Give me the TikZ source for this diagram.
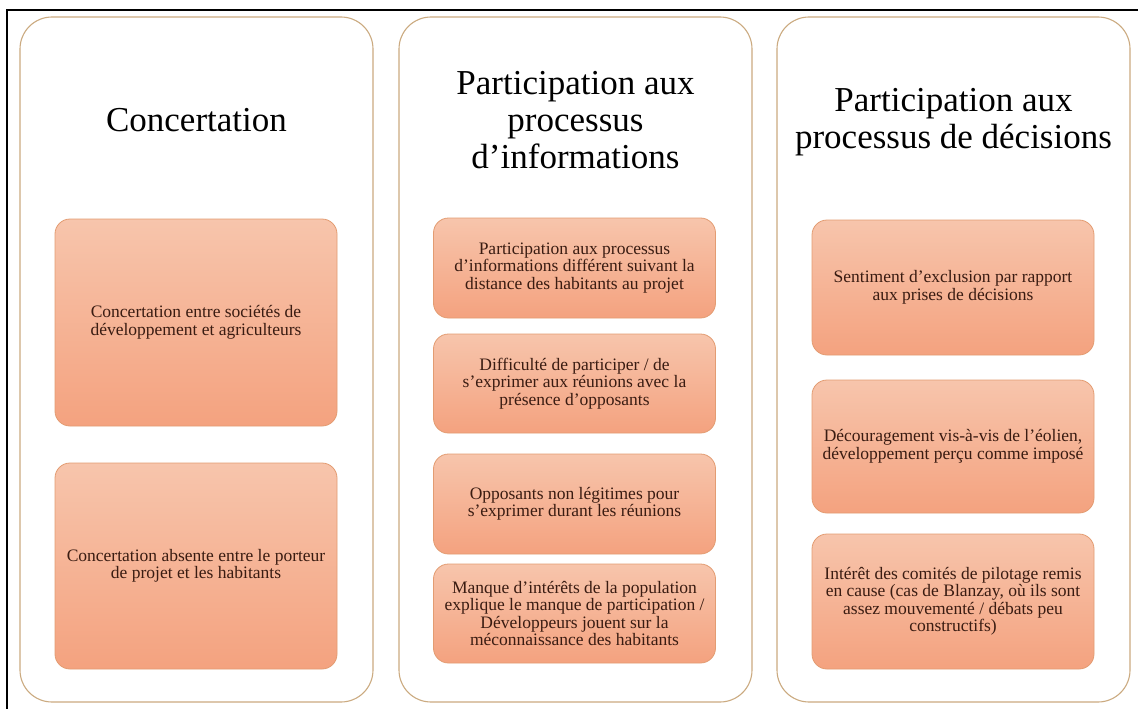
\documentclass[tikz,border=0pt]{standalone}
\usepackage{fontspec}
\setmainfont{Liberation Serif}
\usepackage{xcolor}
\usepackage{tikz}
\usetikzlibrary{positioning}
\definecolor{colBorder}{HTML}{CBAA80}
\definecolor{boxTop}{HTML}{F7C5AC}
\definecolor{boxBottom}{HTML}{F4A27F}
\definecolor{boxBorder}{HTML}{E39C72}
\definecolor{boxText}{HTML}{3A1C12}

\begin{document}
\begin{tikzpicture}[x=1pt,y=-1pt,
    colbox/.style={rectangle,draw=colBorder,fill=white,line width=1.1pt,
                   rounded corners=32pt,minimum width=353pt,minimum height=685pt,
                   inner sep=0pt},
    itembox/.style={rectangle,draw=boxBorder,line width=0.8pt,
                    top color=boxTop,bottom color=boxBottom,
                    rounded corners=15pt,minimum width=282pt,
                    align=center,text=boxText,inner sep=2pt,
                    font=\fontsize{17.5}{17.5}\selectfont},
    coltitle/.style={align=center,text=black,
                     font=\fontsize{35}{37}\selectfont}
  ]
  \useasboundingbox (0,0) rectangle (1138,709);
  % frame
  \coordinate (frameBL) at (7,712);
  \coordinate (frameTL) at (7,10);
  \coordinate (frameTR) at (1140,10);
  \draw[black,line width=2.5pt] (frameBL) -- (frameTL) -- (frameTR);
  % Concertation
  \node[colbox]   (col1) at (196.5,359.5) {};
  \node[coltitle] (t1)   at (196.5,120) {Concertation};
  \node[itembox,minimum height=207pt] (c1a) at (196,322.5)
    {Concertation entre sociétés de\\développement et agriculteurs};
  \node[itembox,minimum height=206pt] (c1b) at (196,566)
    {Concertation absente entre le porteur\\de projet et les habitants};
  % Participation aux processus d'informations
  \node[colbox]   (col2) at (575.5,359.5) {};
  \node[coltitle] (t2)   at (575.5,120) {Participation aux\\processus\\d’informations};
  \node[itembox,minimum height=100pt] (c2a) at (574.5,268)
    {Participation aux processus\\d’informations différent suivant la\\distance des habitants au projet};
  \node[itembox,minimum height=99pt]  (c2b) at (574.5,383.5)
    {Difficulté de participer / de\\s’exprimer aux réunions avec la\\présence d’opposants};
  \node[itembox,minimum height=100pt] (c2c) at (574.5,504)
    {Opposants non légitimes pour\\s’exprimer durant les réunions};
  \node[itembox,minimum height=99pt]  (c2d) at (574.5,613.5)
    {Manque d’intérêts de la population\\explique le manque de participation /\\Développeurs jouent sur la\\méconnaissance des habitants};
  % Participation aux processus de décisions
  \node[colbox]   (col3) at (953.5,359.5) {};
  \node[coltitle] (t3)   at (953.5,122) {Participation aux\\processus de décisions};
  \node[itembox,minimum height=135pt] (c3a) at (953,287.5)
    {Sentiment d’exclusion par rapport\\aux prises de décisions};
  \node[itembox,minimum height=133pt] (c3b) at (953,446.5)
    {Découragement vis-à-vis de l’éolien,\\développement perçu comme imposé};
  \node[itembox,minimum height=135pt] (c3c) at (953,601.5)
    {Intérêt des comités de pilotage remis\\en cause (cas de Blanzay, où ils sont\\assez mouvementé / débats peu\\constructifs)};
\end{tikzpicture}
\end{document}
